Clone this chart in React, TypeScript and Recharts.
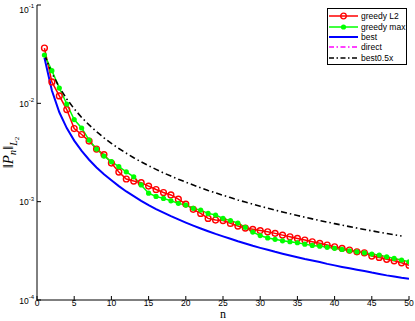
import React from "react";
import { Legend, Line, LineChart, XAxis, YAxis } from "recharts";

// values (n = 1..50)
const nValues = Array.from({ length: 50 }, (_, i) => i + 1);

const greedyL2 = [
  0.0365, 0.0165, 0.0119, 0.00865, 0.00554, 0.00482, 0.00413, 0.00343, 0.00301, 0.00247,
  0.002, 0.0017, 0.00162, 0.00156, 0.00144, 0.00133, 0.00124, 0.00117, 0.00106, 0.000945,
  0.000835, 0.00076, 0.000676, 0.00065, 0.000642, 0.000601, 0.000565, 0.000539, 0.000523, 0.000508,
  0.000494, 0.000476, 0.000457, 0.00044, 0.000423, 0.000407, 0.000391, 0.000377, 0.000362, 0.000348,
  0.000335, 0.000322, 0.000309, 0.000302, 0.00028, 0.000271, 0.000259, 0.00025, 0.000239, 0.000226,
];

const greedyMax = [
  0.031, 0.0215, 0.0143, 0.00984, 0.00684, 0.00561, 0.00423, 0.00343, 0.00291, 0.00255,
  0.00227, 0.00201, 0.00179, 0.00148, 0.00122, 0.00113, 0.00108, 0.00102, 0.000961, 0.000924,
  0.000855, 0.000821, 0.00076, 0.000731, 0.000676, 0.000642, 0.000606, 0.000548, 0.000491, 0.000452,
  0.000428, 0.000414, 0.0004, 0.000391, 0.000382, 0.00037, 0.000359, 0.000353, 0.000343, 0.000335,
  0.000327, 0.000316, 0.000309, 0.000302, 0.000293, 0.000286, 0.000275, 0.000265, 0.000255, 0.000245,
];

const best = [
  0.029, 0.0135, 0.00811, 0.0056, 0.00418, 0.00328, 0.00267, 0.00223, 0.0019, 0.00165,
  0.00144, 0.00127, 0.00114, 0.00102, 0.00092, 0.00084, 0.000772, 0.000712, 0.00066, 0.000613,
  0.000571, 0.000534, 0.0005, 0.00047, 0.000444, 0.000419, 0.000396, 0.000376, 0.000356, 0.000339,
  0.000324, 0.000309, 0.000296, 0.000284, 0.000272, 0.000261, 0.000252, 0.000243, 0.000233, 0.000225,
  0.000217, 0.00021, 0.000203, 0.000197, 0.00019, 0.000184, 0.000178, 0.000173, 0.000168, 0.000164,
];

// best0.5x stops at n = 49
const best05 = [
  0.0313, 0.0203, 0.01455, 0.01107, 0.00879, 0.00719, 0.00603, 0.00515, 0.00446, 0.00391,
  0.00347, 0.00311, 0.0028, 0.00254, 0.00232, 0.00213, 0.00196, 0.00182, 0.00169, 0.00158,
  0.00148, 0.00138, 0.0013, 0.00123, 0.00116, 0.0011, 0.00104, 0.00099, 0.000943, 0.000899,
  0.000858, 0.00082, 0.000786, 0.000753, 0.000723, 0.000695, 0.000668, 0.000643, 0.00062, 0.000598,
  0.000577, 0.000557, 0.000539, 0.000521, 0.000505, 0.000489, 0.000474, 0.00046, 0.000447,
];

const xTicks = [0, 5, 10, 15, 20, 25, 30, 35, 40, 45, 50];
const yTicks = [1e-4, 1e-3, 1e-2, 1e-1];
const yMinorTicks = [
  2e-4, 3e-4, 4e-4, 5e-4, 6e-4, 7e-4, 8e-4, 9e-4,
  2e-3, 3e-3, 4e-3, 5e-3, 6e-3, 7e-3, 8e-3, 9e-3,
  2e-2, 3e-2, 4e-2, 5e-2, 6e-2, 7e-2, 8e-2, 9e-2,
];

const data = nValues.map((n, i) => ({
  n,
  greedyL2: greedyL2[i],
  greedyMax: greedyMax[i],
  best: best[i],
  best05: i < best05.length ? best05[i] : null,
}));

const FONT = '"Liberation Sans", Arial, Helvetica, sans-serif';
const SERIF = '"Liberation Serif", "DejaVu Serif", serif';
const DOMAIN: [number, number] = [1e-4, 1e-1];

const legendItems = [
  { name: "greedy L2", color: "#ff0000", width: 1.5, dash: "", marker: "ring" },
  { name: "greedy max", color: "#00ff00", width: 1.5, dash: "", marker: "dot" },
  { name: "best", color: "#0000ff", width: 2, dash: "", marker: "" },
  { name: "direct", color: "#ff00ff", width: 1.5, dash: "5 2.5 1.5 2.5", marker: "" },
  { name: "best0.5x", color: "#000000", width: 1.5, dash: "5 2.5 1.5 2.5", marker: "" },
];

const EmptyTick = () => <g />;

const LogTick = (props: any) => {
  const { x, y, payload } = props;
  const exp = Math.round(Math.log10(payload.value));
  return (
    <text x={x} y={y} dy={3.5} textAnchor="end" fontFamily={FONT} fontSize={8.5} fill="#000">
      <tspan>10</tspan>
      <tspan fontSize={6} dy={-4.5}>{exp}</tspan>
    </text>
  );
};

const YLabel = (props: any) => {
  const { viewBox } = props;
  const cx = viewBox.x + 13;
  const cy = viewBox.y + viewBox.height / 2;
  return (
    <text
      x={cx}
      y={cy}
      transform={`rotate(-90, ${cx}, ${cy})`}
      textAnchor="middle"
      fontFamily={SERIF}
      fontSize={15}
      fill="#000"
    >
      <tspan>‖</tspan>
      <tspan fontStyle="italic">P</tspan>
      <tspan fontStyle="italic" fontSize={10} dy={3}>n</tspan>
      <tspan dy={-3}>‖</tspan>
      <tspan fontStyle="italic" fontSize={10} dy={3.5}>L</tspan>
      <tspan fontSize={7} dy={2}>2</tspan>
    </text>
  );
};

const LegendBox = () => (
  <div
    style={{
      border: "1px solid #000",
      background: "#fff",
      boxSizing: "border-box",
      width: 80,
      height: 57,
      padding: "2px 0",
      fontFamily: FONT,
      fontSize: 8.5,
      color: "#000",
    }}
  >
    {legendItems.map((it) => (
      <div key={it.name} style={{ display: "flex", alignItems: "center", height: 10.4, lineHeight: "10px" }}>
        <svg width={32} height={10} style={{ display: "block" }}>
          <line
            x1={1}
            x2={30}
            y1={5}
            y2={5}
            stroke={it.color}
            strokeWidth={it.width}
            strokeDasharray={it.dash || undefined}
          />
          {it.marker === "ring" && (
            <circle cx={15.5} cy={5} r={2.8} fill="none" stroke={it.color} strokeWidth={1.3} />
          )}
          {it.marker === "dot" && <circle cx={15.5} cy={5} r={2.6} fill={it.color} />}
        </svg>
        <span style={{ marginLeft: 1, whiteSpace: "nowrap" }}>{it.name}</span>
      </div>
    ))}
  </div>
);

export default function App() {
  return (
    <div style={{ position: "absolute", left: 0, top: 0, background: "#fff" }}>
      <LineChart width={415} height={321} data={data} margin={{ top: 5, right: 6, bottom: 0, left: 0 }}>
        <XAxis
          xAxisId="x"
          dataKey="n"
          type="number"
          domain={[0, 50]}
          ticks={xTicks}
          allowDataOverflow
          height={21}
          stroke="#000"
          tickSize={-4}
          tickMargin={4}
          tick={{ fontSize: 8.5, fontFamily: FONT, fill: "#000" }}
          label={{ value: "n", position: "insideBottom", offset: 3, fontFamily: SERIF, fontSize: 12, fill: "#000" }}
        />
        <XAxis
          xAxisId="top"
          orientation="top"
          type="number"
          domain={[0, 50]}
          ticks={xTicks}
          allowDataOverflow
          height={0}
          stroke="#000"
          tickSize={-4}
          tick={EmptyTick}
        />
        <YAxis
          yAxisId="y"
          scale="log"
          type="number"
          domain={DOMAIN}
          ticks={yTicks}
          allowDataOverflow
          width={37}
          stroke="#000"
          tickSize={-4}
          tickMargin={7}
          tick={LogTick}
          label={YLabel}
        />
        <YAxis
          yAxisId="lmin"
          scale="log"
          type="number"
          domain={DOMAIN}
          ticks={yMinorTicks}
          allowDataOverflow
          width={0}
          axisLine={false}
          stroke="#000"
          tickSize={-2}
          tick={EmptyTick}
        />
        <YAxis
          yAxisId="rmaj"
          orientation="right"
          scale="log"
          type="number"
          domain={DOMAIN}
          ticks={yTicks}
          allowDataOverflow
          width={0}
          stroke="#000"
          tickSize={-4}
          tick={EmptyTick}
        />
        <YAxis
          yAxisId="rmin"
          orientation="right"
          scale="log"
          type="number"
          domain={DOMAIN}
          ticks={yMinorTicks}
          allowDataOverflow
          width={0}
          axisLine={false}
          stroke="#000"
          tickSize={-2}
          tick={EmptyTick}
        />
        <Legend
          layout="horizontal"
          verticalAlign="middle"
          align="center"
          content={LegendBox}
          wrapperStyle={{ left: 327, top: 8, width: 80, height: 57 }}
        />
        <Line
          xAxisId="x"
          yAxisId="y"
          dataKey="greedyL2"
          name="greedy L2"
          stroke="#ff0000"
          strokeWidth={1.5}
          dot={{ r: 2.9, stroke: "#ff0000", strokeWidth: 1.4, fill: "none" }}
          isAnimationActive={false}
        />
        <Line
          xAxisId="x"
          yAxisId="y"
          dataKey="greedyMax"
          name="greedy max"
          stroke="#00ff00"
          strokeWidth={1.5}
          dot={{ r: 2.6, stroke: "none", fill: "#00ff00" }}
          isAnimationActive={false}
        />
        <Line
          xAxisId="x"
          yAxisId="y"
          dataKey="best"
          name="best"
          stroke="#0000ff"
          strokeWidth={2}
          dot={false}
          isAnimationActive={false}
        />
        <Line
          xAxisId="x"
          yAxisId="y"
          dataKey="best05"
          name="best0.5x"
          stroke="#000000"
          strokeWidth={1.6}
          strokeDasharray="6 3 1.5 3"
          dot={false}
          isAnimationActive={false}
        />
      </LineChart>
    </div>
  );
}
